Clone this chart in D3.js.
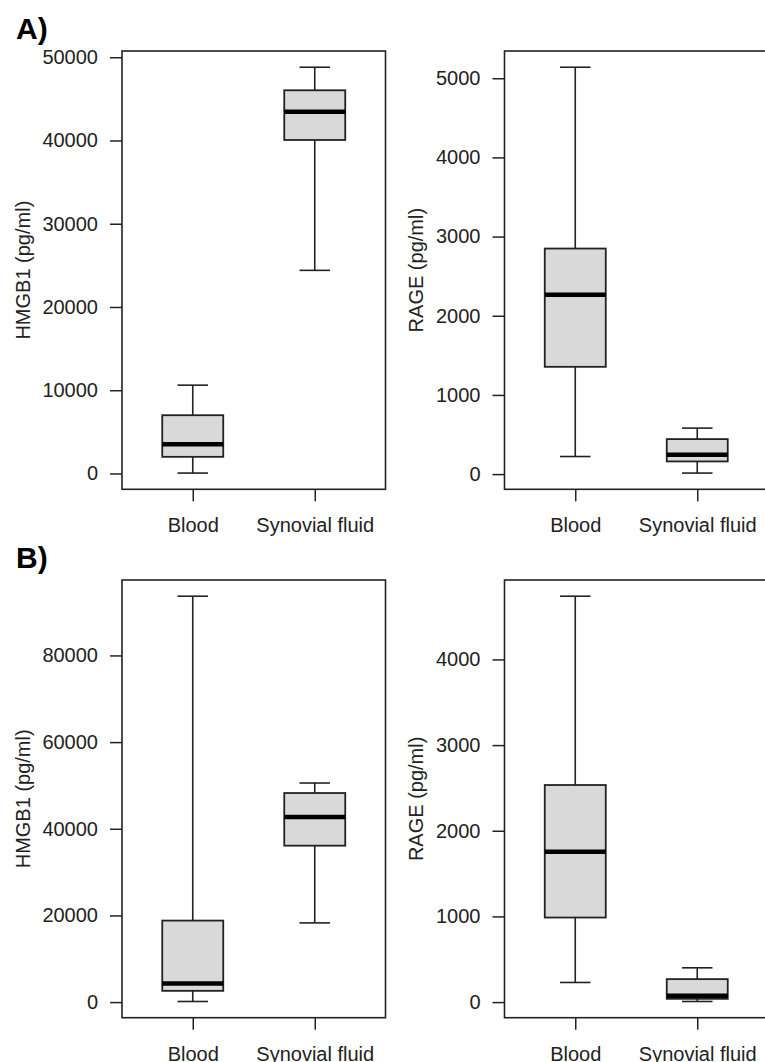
<!DOCTYPE html>
<html>
<head>
<meta charset="utf-8">
<script src="https://cdn.jsdelivr.net/npm/d3@7"></script>
<style>
  body { margin: 0; background: #fff; }
  svg { display: block; font-family: "Liberation Sans", Arial, sans-serif; }
</style>
</head>
<body>
<div id="chart"></div>
<script>
// groups on the x axis
var groups = ["Blood", "Synovial fluid"];

// five number summaries per group: [lower whisker, Q1, median, Q3, upper whisker]
var hmgbA = [[50, 2000, 3520, 7000, 10610], [24400, 40060, 43460, 46030, 48800]];
var rageA = [[222, 1355, 2264, 2849, 5139], [13, 160, 244, 442, 581]];
var hmgbB = [[140, 2600, 4290, 18810, 93670], [18280, 36100, 42720, 48250, 50560]];
var rageB = [[229, 987, 1756, 2534, 4738], [7, 38, 73, 268, 400]];

// tick labels
var hmgbTicksA = [0, 10000, 20000, 30000, 40000, 50000];
var rageTicksA = [0, 1000, 2000, 3000, 4000, 5000];
var hmgbTicksB = [0, 20000, 40000, 60000, 80000];
var rageTicksB = [0, 1000, 2000, 3000, 4000];

var hmgbLabel = "HMGB1 (pg/ml)";
var rageLabel = "RAGE (pg/ml)";
var panelTags = ["A)", "B)"];

var W = 765, H = 1062;
var plotW = 263.5;

var svg = d3.select("#chart").append("svg")
    .attr("width", W)
    .attr("height", H);

var drawBoxplot = function (left, top, height, stats, ticks, label) {

    var g = svg.append("g").attr("transform", "translate(" + left + "," + top + ")");

    // R style: range of data widened by 4%
    var lo = d3.min(stats, function (d) { return d[0]; });
    var hi = d3.max(stats, function (d) { return d[4]; });
    var pad = (hi - lo) * 0.04;

    var y = d3.scaleLinear().domain([lo - pad, hi + pad]).range([height, 0]);
    var x = d3.scaleLinear().domain([0.42, 2.58]).range([0, plotW]);

    var yAxis = g.append("g")
        .call(d3.axisLeft(y).tickValues(ticks).tickSize(12).tickPadding(12).tickFormat(d3.format("d")));
    yAxis.select(".domain").remove();
    yAxis.selectAll("line").attr("stroke", "#222").attr("stroke-width", 1.5);
    yAxis.selectAll("text").attr("font-size", 20).attr("fill", "#222")
        .attr("font-family", "'Liberation Sans', Arial, sans-serif");

    var xAxis = g.append("g")
        .attr("transform", "translate(0," + height + ")")
        .call(d3.axisBottom(x).tickValues([1, 2]).tickSize(12).tickPadding(17)
            .tickFormat(function (d) { return groups[d - 1]; }));
    xAxis.select(".domain").remove();
    xAxis.selectAll("line").attr("stroke", "#222").attr("stroke-width", 1.5);
    xAxis.selectAll("text").attr("font-size", 20).attr("fill", "#222")
        .attr("font-family", "'Liberation Sans', Arial, sans-serif");

    var bb = yAxis.node().getBBox();
    g.append("text")
        .attr("transform", "translate(" + (bb.x - 20) + "," + (height / 2) + ") rotate(-90)")
        .attr("text-anchor", "middle")
        .attr("dy", "0.36em")
        .attr("font-size", 20)
        .attr("fill", "#222")
        .text(label);

    var boxes = g.selectAll(".box")
        .data(stats)
        .enter()
        .append("g")
        .attr("class", "box");

    var half = x(1.25) - x(1);
    var cap = x(1.125) - x(1);

    // whiskers
    boxes.append("line")
        .attr("x1", function (d, i) { return x(i + 1); })
        .attr("x2", function (d, i) { return x(i + 1); })
        .attr("y1", function (d) { return y(d[0]); })
        .attr("y2", function (d) { return y(d[4]); })
        .attr("stroke", "#222").attr("stroke-width", 1.6);

    // staples
    [0, 4].forEach(function (k) {
        boxes.append("line")
            .attr("x1", function (d, i) { return x(i + 1) - cap; })
            .attr("x2", function (d, i) { return x(i + 1) + cap; })
            .attr("y1", function (d) { return y(d[k]); })
            .attr("y2", function (d) { return y(d[k]); })
            .attr("stroke", "#222").attr("stroke-width", 1.6);
    });

    // box
    boxes.append("rect")
        .attr("x", function (d, i) { return x(i + 1) - half; })
        .attr("width", half * 2)
        .attr("y", function (d) { return y(d[3]); })
        .attr("height", function (d) { return y(d[1]) - y(d[3]); })
        .attr("fill", "#d9d9d9")
        .attr("stroke", "#222").attr("stroke-width", 1.8);

    // median
    boxes.append("line")
        .attr("x1", function (d, i) { return x(i + 1) - half; })
        .attr("x2", function (d, i) { return x(i + 1) + half; })
        .attr("y1", function (d) { return y(d[2]); })
        .attr("y2", function (d) { return y(d[2]); })
        .attr("stroke", "#000").attr("stroke-width", 4.5);

    // frame
    g.append("rect")
        .attr("width", plotW)
        .attr("height", height)
        .attr("fill", "none")
        .attr("stroke", "#222").attr("stroke-width", 1.6);
};

drawBoxplot(122, 51, 438.3, hmgbA, hmgbTicksA, hmgbLabel);
drawBoxplot(504.5, 51, 438.3, rageA, rageTicksA, rageLabel);
drawBoxplot(122, 580, 437.7, hmgbB, hmgbTicksB, hmgbLabel);
drawBoxplot(504.5, 580, 437.7, rageB, rageTicksB, rageLabel);

svg.selectAll(".tag")
    .data(panelTags)
    .enter()
    .append("text")
    .attr("class", "tag")
    .attr("x", 16)
    .attr("y", function (d, i) { return i === 0 ? 39 : 568; })
    .attr("font-size", 30)
    .attr("font-weight", "bold")
    .attr("fill", "#000")
    .text(function (d) { return d; });
</script>
</body>
</html>
